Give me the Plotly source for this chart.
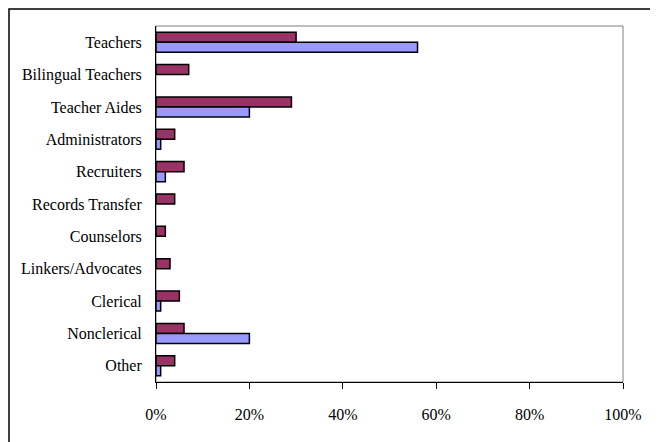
import plotly.graph_objects as go

categories = ["Teachers", "Bilingual Teachers", "Teacher Aides", "Administrators", "Recruiters",
              "Records Transfer", "Counselors", "Linkers/Advocates", "Clerical", "Nonclerical", "Other"]
series_a = [30, 7, 29, 4, 6, 4, 2, 3, 5, 6, 4]
series_b = [56, 0, 20, 1, 2, 0, 0, 0, 1, 20, 1]
x_ticks = [0, 20, 40, 60, 80, 100]
x_tick_labels = ["0%", "20%", "40%", "60%", "80%", "100%"]

# page body has an 8px margin, so the figure starts at (8, 8)
W, H = 650, 434
L, T = 148, 18
pw, ph = 467, 356
R, B = W - L - pw, H - T - ph


def nz(vals):
    return [v if v else None for v in vals]


fig = go.Figure()
fig.add_trace(go.Bar(y=categories, x=nz(series_a), orientation="h", name="Series 1",
                     marker=dict(color="#993366", line=dict(color="black", width=1.5))))
fig.add_trace(go.Bar(y=categories, x=nz(series_b), orientation="h", name="Series 2",
                     marker=dict(color="#9999FF", line=dict(color="black", width=1.5))))

font = "Liberation Serif, Times New Roman, serif"
fig.update_layout(
    width=W, height=H, margin=dict(l=L, r=R, t=T, b=B, autoexpand=False),
    paper_bgcolor="white", plot_bgcolor="white",
    barmode="group", bargap=0.38, bargroupgap=0,
    showlegend=False,
    font=dict(family=font, size=16, color="black"),
    xaxis=dict(range=[0, 100], tickvals=x_ticks, ticktext=x_tick_labels, showgrid=False,
               zeroline=False, showline=True, linecolor="black", linewidth=1,
               ticks="outside", ticklen=6, tickcolor="black", ticklabelstandoff=12,
               tickfont=dict(family=font, size=16)),
    yaxis=dict(autorange="reversed", showgrid=False, showline=True, linecolor="black",
               linewidth=1, ticks="", ticklabelstandoff=10,
               tickfont=dict(family=font, size=16)),
    shapes=[
        dict(type="rect", xref="paper", yref="paper", x0=0, x1=1, y0=0, y1=1,
             line=dict(color="#808080", width=1), layer="below"),
        dict(type="rect", xref="paper", yref="paper",
             x0=(1 - L) / pw, x1=(W + 20 - L) / pw,
             y0=-(H + 20 - T - ph) / ph, y1=1 + (T - 1) / ph,
             line=dict(color="black", width=1.5)),
    ],
)

fig.write_html("out.html")
